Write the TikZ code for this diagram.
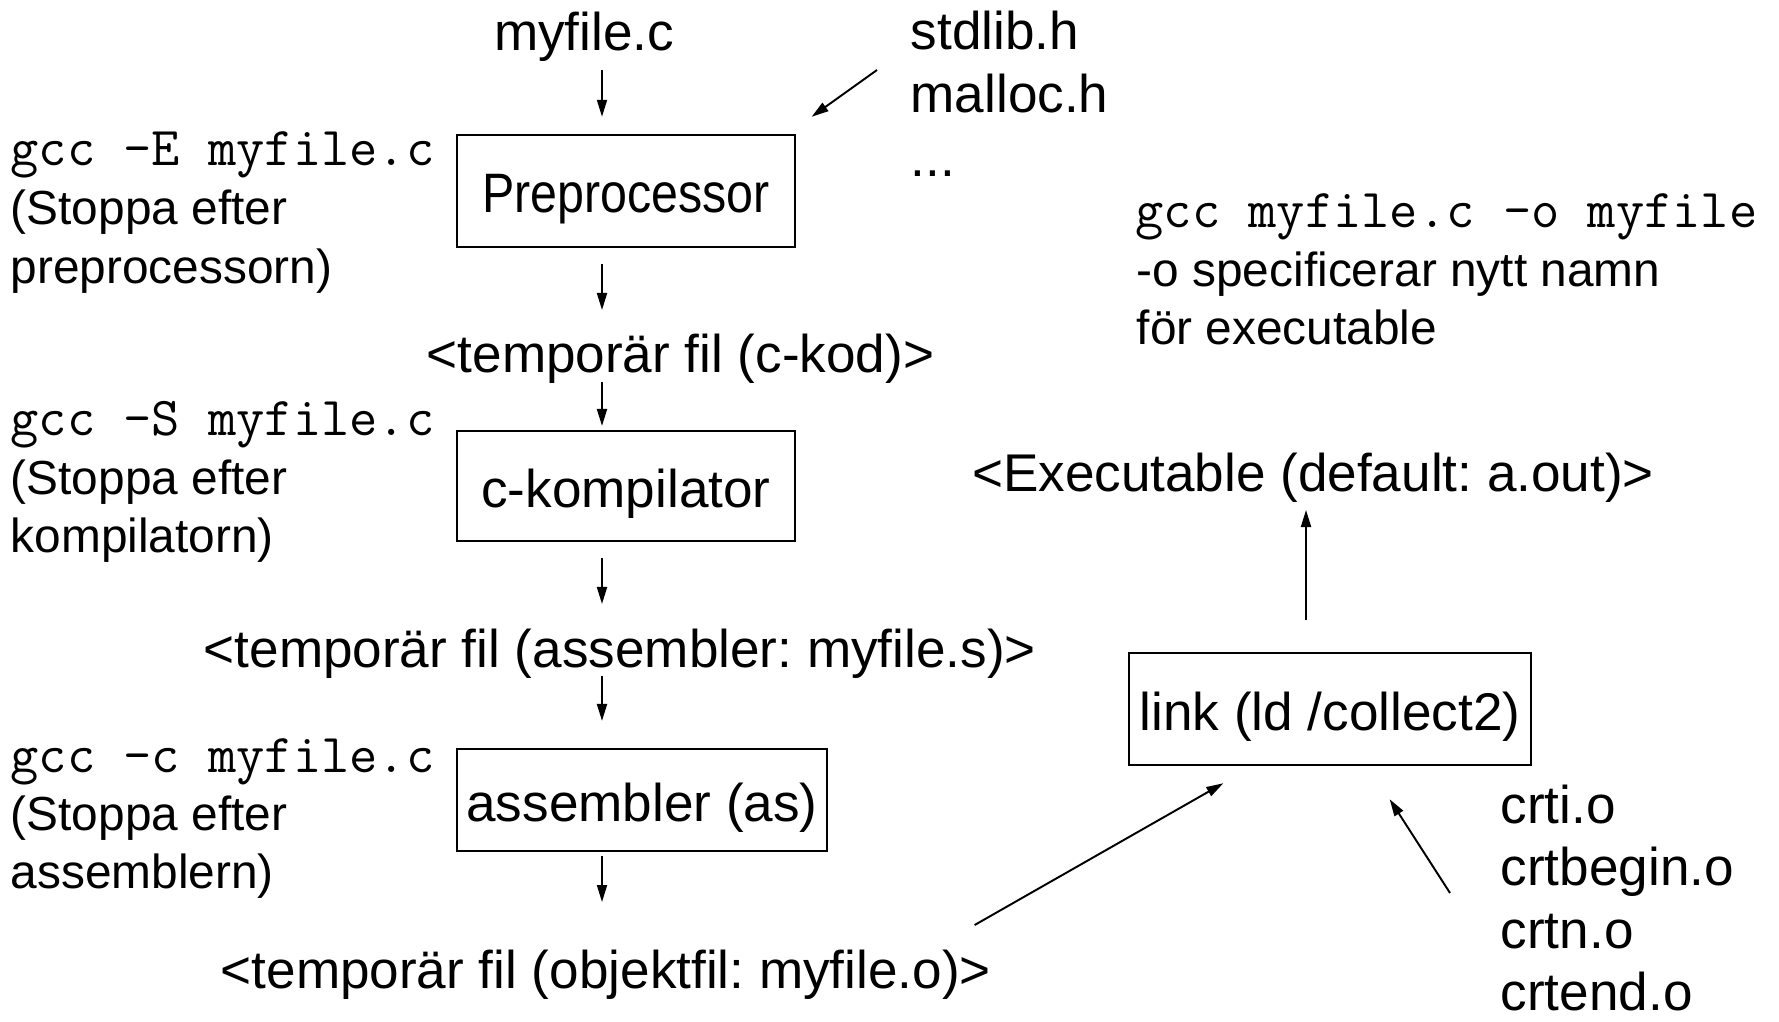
\documentclass[tikz,border=0pt]{standalone}
\usepackage{fontspec}
\setmainfont{Liberation Sans}
\newfontfamily\narrowsf[FakeStretch=0.87]{Liberation Sans}
\usetikzlibrary{arrows.meta,calc}
\frenchspacing

\begin{document}
\begin{tikzpicture}[x=0.01cm,y=-0.01cm,
    every node/.style={inner sep=0pt},
    stagebox/.style={draw,line width=0.6pt,font=\fontsize{15.1}{18}\selectfont,
      text height=0.55cm,text depth=0.13cm},
    filelabel/.style={font=\fontsize{15.1}{18}\selectfont},
    cmdline/.style={font=\ttfamily\fontsize{15.6}{18}\selectfont},
    stopnote/.style={font=\fontsize{13.6}{16}\selectfont},
    flowarrow/.style={line width=0.55pt,-{Triangle[length=0.17cm,width=0.1cm]}}]
  \useasboundingbox (0,0) rectangle (1779,1021);

  % compile chain
  \node[filelabel,anchor=base] (src) at (584,50) {myfile.c};
  \node[stagebox,minimum width=3.37cm,minimum height=1.123cm] (pre) at (626,191) {\narrowsf\fontsize{15.8}{18}\selectfont Preprocessor};
  \node[filelabel,anchor=base west] (tmpc) at (426,372) {<temporär fil (c-kod)>};
  \node[stagebox,minimum width=3.37cm,minimum height=1.10cm] (cc) at (626,486) {c-kompilator};
  \node[filelabel,anchor=base west] (tmps) at (203,667.5) {<temporär fil (assembler: myfile.s)>};
  \node[stagebox,minimum width=3.69cm,minimum height=1.02cm] (as) at (642,800) {assembler (as)};
  \node[filelabel,anchor=base west] (tmpo) at (220,988) {<temporär fil (objektfil: myfile.o)>};

  % headers
  \node[filelabel,anchor=base west] (hdr1) at (910,49) {stdlib.h};
  \node[filelabel,anchor=base west] (hdr2) at (910,112) {malloc.h};
  \node[filelabel,anchor=base west] (hdr3) at (910,176) {...};

  % gcc options
  \node[cmdline,anchor=base west] (gccE) at (10,165) {gcc –E myfile.c};
  \node[stopnote,anchor=base west] (stopE1) at (10,224) {(Stoppa efter};
  \node[stopnote,anchor=base west] (stopE2) at (10,283) {preprocessorn)};
  \node[cmdline,anchor=base west] (gccS) at (10,435) {gcc –S myfile.c};
  \node[stopnote,anchor=base west] (stopS1) at (10,494) {(Stoppa efter};
  \node[stopnote,anchor=base west] (stopS2) at (10,552) {kompilatorn)};
  \node[cmdline,anchor=base west] (gccC) at (10,772) {gcc –c myfile.c};
  \node[stopnote,anchor=base west] (stopC1) at (10,830) {(Stoppa efter};
  \node[stopnote,anchor=base west] (stopC2) at (10,888) {assemblern)};

  \node[cmdline,anchor=base west] (gccO) at (1135,227) {gcc myfile.c –o myfile};
  \node[stopnote,anchor=base west] (noteO1) at (1136,286) {-o specificerar nytt namn};
  \node[stopnote,anchor=base west] (noteO2) at (1136,344) {för executable};

  % linking
  \node[filelabel,anchor=base] (exe) at (1313,491) {<Executable (default: a.out)>};
  \node[stagebox,minimum width=4.01cm,minimum height=1.123cm] (link) at (1330,709) {link (ld /collect2)};
  \foreach \obj [count=\i] in {crti.o,crtbegin.o,crtn.o,crtend.o}
    \node[filelabel,anchor=base west] (crt\i) at (1500,{823+62.5*(\i-1)}) {\obj};

  \coordinate (col) at (602,0);
  \draw[flowarrow] ($(src.base -| col)+(0,20)$) -- ($(pre.north -| col)+(0,-17)$);
  \draw[flowarrow] ($(pre.south -| col)+(0,16)$) -- ($(tmpc.base -| col)+(0,-62)$);
  \draw[flowarrow] ($(tmpc.base -| col)+(0,10)$) -- ($(cc.north -| col)+(0,-4)$);
  \draw[flowarrow] ($(cc.south -| col)+(0,16)$) -- ($(tmps.base -| col)+(0,-63.5)$);
  \draw[flowarrow] ($(tmps.base -| col)+(0,8.5)$) -- ($(as.north -| col)+(0,-27)$);
  \draw[flowarrow] ($(as.south -| col)+(0,4)$) -- ($(tmpo.base -| col)+(0,-86)$);
  \draw[flowarrow] ($(hdr1.base west)+(-33,21)$) -- ($(pre.north east)+(16,-17)$);
  \draw[flowarrow] ($(tmpo.base east)+(-17,-63)$) -- ($(link.south west)+(95,17)$);
  \draw[flowarrow] ($(crt1.base west)+(-50,70)$) -- ($(link.south east)+(-142,33)$);
  \draw[flowarrow] ($(link.north)+(-24,-32)$) -- ($(exe.base)+(-7,19)$);
\end{tikzpicture}
\end{document}
